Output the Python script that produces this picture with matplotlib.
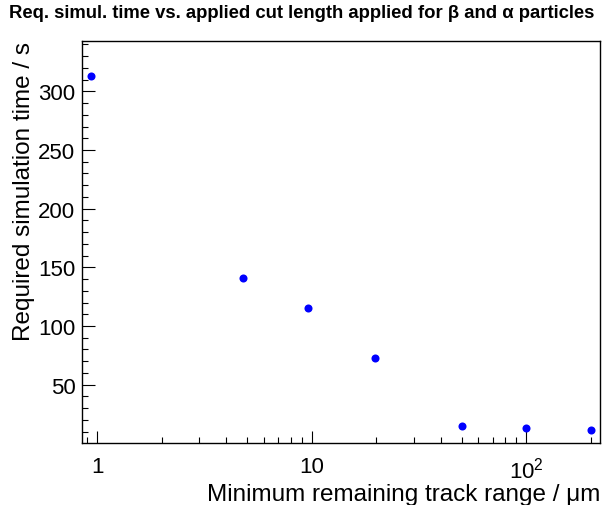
import matplotlib
matplotlib.use("Agg")
import matplotlib.pyplot as plt
from matplotlib.ticker import FixedLocator, FuncFormatter, MultipleLocator, NullFormatter

plt.rcParams['font.family'] = ['Liberation Sans', 'DejaVu Sans']
plt.rcParams['mathtext.fontset'] = 'custom'
plt.rcParams['mathtext.rm'] = 'Liberation Sans'

# cut range (um) and required simulation time (s)
cut_range = [0.94, 4.8, 9.6, 19.7, 50, 100, 200]
sim_time = [313, 141.2, 115.1, 72.7, 15.1, 13.1, 11.7]

x_major = [1, 10, 100]
x_labels = ['1', '10', '$10^{2}$']

fig = plt.figure(figsize=(6.08, 5.06), dpi=100, facecolor='white')
ax = fig.add_axes([0.1354, 0.1225, 0.8514, 0.7939])

ax.plot(cut_range, sim_time, 'o', color='#0000ff', markersize=5.8, markeredgewidth=0)

ax.set_xscale('log')
ax.set_xlim(0.854, 221)
ax.set_ylim(0.3, 342.6)

ax.xaxis.set_major_locator(FixedLocator(x_major))
ax.xaxis.set_major_formatter(FuncFormatter(lambda v, p: x_labels[x_major.index(round(v))] if round(v) in x_major else ''))
minors = [m * 10 ** e for e in (-1, 0, 1, 2) for m in range(2, 10)]
ax.xaxis.set_minor_locator(FixedLocator(minors))
ax.xaxis.set_minor_formatter(NullFormatter())
ax.yaxis.set_major_locator(FixedLocator([50, 100, 150, 200, 250, 300]))
ax.yaxis.set_minor_locator(MultipleLocator(10))

ax.tick_params(which='both', direction='in', top=False, right=False, width=0.8)
ax.tick_params(which='major', length=9)
ax.tick_params(which='minor', length=4.3)
ax.tick_params(axis='x', labelsize=16, pad=9.5)
ax.tick_params(axis='y', labelsize=16, pad=5)
for s in ax.spines.values():
    s.set_linewidth(1.0)

ax.set_xlabel('Minimum remaining track range / μm', fontsize=17.5, ha='right', va='baseline')
ax.xaxis.set_label_coords(1.0, -0.143)
ax.set_ylabel('Required simulation time / s', fontsize=17.5, ha='right', va='baseline',
              rotation_mode='anchor')
ax.yaxis.set_label_coords(-0.102, 1.0)

fig.text(0.0153, 0.9638, 'Req. simul. time vs. applied cut length applied for β and α particles',
         fontsize=13.3, fontweight='bold', ha='left', va='baseline')

fig.savefig('out.png', dpi=100, facecolor='white')
